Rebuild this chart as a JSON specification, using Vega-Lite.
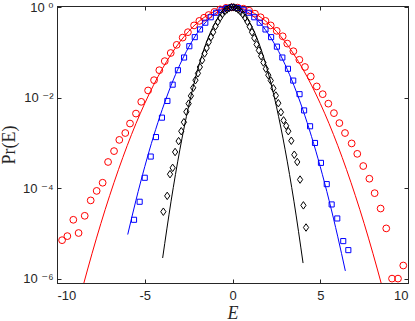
{
  "$schema": "https://vega.github.io/schema/vega-lite/v6.json",
  "width": 351,
  "height": 277,
  "autosize": "none",
  "padding": {"left": 57, "top": 6, "right": 7, "bottom": 38},
  "background": "white",
  "config": {
    "view": {"stroke": "#262626", "strokeWidth": 1},
    "axis": {
      "grid": false,
      "domainColor": "#262626",
      "tickColor": "#262626",
      "labelColor": "#262626",
      "labelFont": "Liberation Sans, DejaVu Sans",
      "labelFontSize": 13,
      "titleFont": "Liberation Serif",
      "titleFontWeight": "normal",
      "titleColor": "#262626",
      "tickSize": -4
    }
  },
  "datasets": {
    "pts": [
      {"series": "red", "E": -9.71, "P": 7.08e-6},
      {"series": "red", "E": -9.41, "P": 8.71e-6},
      {"series": "red", "E": -9.07, "P": 2.0e-5},
      {"series": "red", "E": -8.77, "P": 1.02e-5},
      {"series": "red", "E": -8.42, "P": 2.45e-5},
      {"series": "red", "E": -8.08, "P": 5.37e-5},
      {"series": "red", "E": -7.74, "P": 8.71e-5},
      {"series": "red", "E": -7.40, "P": 1.32e-4},
      {"series": "red", "E": -7.09, "P": 3.80e-4},
      {"series": "red", "E": -6.75, "P": 6.61e-4},
      {"series": "red", "E": -6.45, "P": 1.17e-3},
      {"series": "red", "E": -6.11, "P": 1.66e-3},
      {"series": "red", "E": -5.84, "P": 2.69e-3},
      {"series": "red", "E": -5.50, "P": 4.47e-3},
      {"series": "red", "E": -5.20, "P": 8.13e-3},
      {"series": "red", "E": -4.81, "P": 0.0145},
      {"series": "red", "E": -4.47, "P": 0.0245},
      {"series": "red", "E": -4.17, "P": 0.0407},
      {"series": "red", "E": -3.86, "P": 0.0646},
      {"series": "red", "E": -3.52, "P": 0.0977},
      {"series": "red", "E": -3.18, "P": 0.148},
      {"series": "red", "E": -2.84, "P": 0.214},
      {"series": "red", "E": -2.54, "P": 0.282},
      {"series": "red", "E": -2.19, "P": 0.398},
      {"series": "red", "E": -1.89, "P": 0.501},
      {"series": "red", "E": -1.62, "P": 0.589},
      {"series": "red", "E": -1.36, "P": 0.676},
      {"series": "red", "E": -1.03, "P": 0.794},
      {"series": "red", "E": -0.70, "P": 0.902},
      {"series": "red", "E": -0.37, "P": 0.973},
      {"series": "red", "E": -0.04, "P": 1.0},
      {"series": "red", "E": 0.29, "P": 0.984},
      {"series": "red", "E": 0.62, "P": 0.933},
      {"series": "red", "E": 0.95, "P": 0.841},
      {"series": "red", "E": 1.28, "P": 0.724},
      {"series": "red", "E": 1.60, "P": 0.603},
      {"series": "red", "E": 1.88, "P": 0.501},
      {"series": "red", "E": 2.18, "P": 0.398},
      {"series": "red", "E": 2.52, "P": 0.302},
      {"series": "red", "E": 2.86, "P": 0.229},
      {"series": "red", "E": 3.12, "P": 0.158},
      {"series": "red", "E": 3.47, "P": 0.107},
      {"series": "red", "E": 3.81, "P": 0.0692},
      {"series": "red", "E": 4.13, "P": 0.0479},
      {"series": "red", "E": 4.46, "P": 0.0295},
      {"series": "red", "E": 4.80, "P": 0.0178},
      {"series": "red", "E": 5.14, "P": 0.0120},
      {"series": "red", "E": 5.46, "P": 7.41e-3},
      {"series": "red", "E": 5.78, "P": 4.57e-3},
      {"series": "red", "E": 6.09, "P": 2.75e-3},
      {"series": "red", "E": 6.41, "P": 1.66e-3},
      {"series": "red", "E": 6.79, "P": 9.77e-4},
      {"series": "red", "E": 7.11, "P": 5.75e-4},
      {"series": "red", "E": 7.45, "P": 3.09e-4},
      {"series": "red", "E": 7.80, "P": 1.62e-4},
      {"series": "red", "E": 8.10, "P": 7.76e-5},
      {"series": "red", "E": 8.44, "P": 3.55e-5},
      {"series": "red", "E": 8.76, "P": 1.29e-5},
      {"series": "red", "E": 9.09, "P": 1.0e-6},
      {"series": "red", "E": 9.43, "P": 1.0e-6},
      {"series": "red", "E": 9.73, "P": 1.95e-6},
      {"series": "blue", "E": -5.61, "P": 2.0e-5},
      {"series": "blue", "E": -5.29, "P": 5.01e-5},
      {"series": "blue", "E": -5.00, "P": 1.70e-4},
      {"series": "blue", "E": -4.66, "P": 5.01e-4},
      {"series": "blue", "E": -4.36, "P": 1.35e-3},
      {"series": "blue", "E": -4.02, "P": 3.63e-3},
      {"series": "blue", "E": -3.71, "P": 8.51e-3},
      {"series": "blue", "E": -3.41, "P": 0.0195},
      {"series": "blue", "E": -3.11, "P": 0.0407},
      {"series": "blue", "E": -2.76, "P": 0.0776},
      {"series": "blue", "E": -2.46, "P": 0.138},
      {"series": "blue", "E": -2.15, "P": 0.219},
      {"series": "blue", "E": -1.85, "P": 0.324},
      {"series": "blue", "E": -1.55, "P": 0.457},
      {"series": "blue", "E": -1.24, "P": 0.603},
      {"series": "blue", "E": -0.93, "P": 0.759},
      {"series": "blue", "E": -0.62, "P": 0.881},
      {"series": "blue", "E": -0.31, "P": 0.968},
      {"series": "blue", "E": 0.0, "P": 1.0},
      {"series": "blue", "E": 0.31, "P": 0.968},
      {"series": "blue", "E": 0.62, "P": 0.881},
      {"series": "blue", "E": 0.93, "P": 0.759},
      {"series": "blue", "E": 1.24, "P": 0.603},
      {"series": "blue", "E": 1.55, "P": 0.457},
      {"series": "blue", "E": 1.88, "P": 0.324},
      {"series": "blue", "E": 2.20, "P": 0.219},
      {"series": "blue", "E": 2.53, "P": 0.135},
      {"series": "blue", "E": 2.84, "P": 0.0776},
      {"series": "blue", "E": 3.16, "P": 0.0437},
      {"series": "blue", "E": 3.46, "P": 0.0240},
      {"series": "blue", "E": 3.82, "P": 0.0120},
      {"series": "blue", "E": 4.08, "P": 5.25e-3},
      {"series": "blue", "E": 4.42, "P": 2.34e-3},
      {"series": "blue", "E": 4.70, "P": 1.0e-3},
      {"series": "blue", "E": 5.04, "P": 3.63e-4},
      {"series": "blue", "E": 5.37, "P": 1.23e-4},
      {"series": "blue", "E": 5.65, "P": 4.37e-5},
      {"series": "blue", "E": 5.97, "P": 2.14e-5},
      {"series": "blue", "E": 6.31, "P": 6.76e-6},
      {"series": "blue", "E": 6.60, "P": 4.27e-6},
      {"series": "black", "E": -3.94, "P": 3.02e-5},
      {"series": "black", "E": -3.72, "P": 6.76e-5},
      {"series": "black", "E": -3.56, "P": 2.04e-4},
      {"series": "black", "E": -3.41, "P": 2.82e-4},
      {"series": "black", "E": -3.27, "P": 6.31e-4},
      {"series": "black", "E": -3.07, "P": 1.10e-3},
      {"series": "black", "E": -2.92, "P": 1.82e-3},
      {"series": "black", "E": -2.77, "P": 2.88e-3},
      {"series": "black", "E": -2.63, "P": 4.90e-3},
      {"series": "black", "E": -2.50, "P": 7.41e-3},
      {"series": "black", "E": -2.37, "P": 0.0110},
      {"series": "black", "E": -2.24, "P": 0.0166},
      {"series": "black", "E": -2.11, "P": 0.0245},
      {"series": "black", "E": -1.97, "P": 0.0347},
      {"series": "black", "E": -1.86, "P": 0.0479},
      {"series": "black", "E": -1.73, "P": 0.0676},
      {"series": "black", "E": -1.59, "P": 0.0955},
      {"series": "black", "E": -1.47, "P": 0.126},
      {"series": "black", "E": -1.35, "P": 0.170},
      {"series": "black", "E": -1.23, "P": 0.219},
      {"series": "black", "E": -1.10, "P": 0.282},
      {"series": "black", "E": -0.97, "P": 0.380},
      {"series": "black", "E": -0.84, "P": 0.479},
      {"series": "black", "E": -0.71, "P": 0.589},
      {"series": "black", "E": -0.58, "P": 0.708},
      {"series": "black", "E": -0.45, "P": 0.813},
      {"series": "black", "E": -0.32, "P": 0.891},
      {"series": "black", "E": -0.19, "P": 0.964},
      {"series": "black", "E": -0.06, "P": 1.0},
      {"series": "black", "E": 0.07, "P": 1.0},
      {"series": "black", "E": 0.20, "P": 0.959},
      {"series": "black", "E": 0.33, "P": 0.891},
      {"series": "black", "E": 0.46, "P": 0.803},
      {"series": "black", "E": 0.59, "P": 0.700},
      {"series": "black", "E": 0.72, "P": 0.589},
      {"series": "black", "E": 0.85, "P": 0.479},
      {"series": "black", "E": 0.98, "P": 0.372},
      {"series": "black", "E": 1.11, "P": 0.282},
      {"series": "black", "E": 1.24, "P": 0.209},
      {"series": "black", "E": 1.37, "P": 0.151},
      {"series": "black", "E": 1.50, "P": 0.112},
      {"series": "black", "E": 1.63, "P": 0.0832},
      {"series": "black", "E": 1.76, "P": 0.0603},
      {"series": "black", "E": 1.90, "P": 0.0437},
      {"series": "black", "E": 2.04, "P": 0.0316},
      {"series": "black", "E": 2.18, "P": 0.0240},
      {"series": "black", "E": 2.33, "P": 0.0162},
      {"series": "black", "E": 2.47, "P": 0.0112},
      {"series": "black", "E": 2.61, "P": 7.59e-3},
      {"series": "black", "E": 2.76, "P": 4.79e-3},
      {"series": "black", "E": 2.91, "P": 3.16e-3},
      {"series": "black", "E": 3.06, "P": 2.40e-3},
      {"series": "black", "E": 3.18, "P": 1.82e-3},
      {"series": "black", "E": 3.35, "P": 1.12e-3},
      {"series": "black", "E": 3.52, "P": 5.50e-4},
      {"series": "black", "E": 3.69, "P": 3.80e-4},
      {"series": "black", "E": 3.85, "P": 1.55e-4},
      {"series": "black", "E": 4.04, "P": 4.17e-5},
      {"series": "black", "E": 4.19, "P": 1.35e-5}
    ],
    "lines": [
      {"series": "red", "E": -8.5, "P": 7.23e-7},
      {"series": "red", "E": -8.0, "P": 3.63e-6},
      {"series": "red", "E": -7.5, "P": 1.66e-5},
      {"series": "red", "E": -7.0, "P": 6.84e-5},
      {"series": "red", "E": -6.5, "P": 2.56e-4},
      {"series": "red", "E": -6.0, "P": 8.71e-4},
      {"series": "red", "E": -5.5, "P": 2.69e-3},
      {"series": "red", "E": -5.0, "P": 7.50e-3},
      {"series": "red", "E": -4.5, "P": 0.0190},
      {"series": "red", "E": -4.0, "P": 0.0437},
      {"series": "red", "E": -3.5, "P": 0.0910},
      {"series": "red", "E": -3.0, "P": 0.172},
      {"series": "red", "E": -2.5, "P": 0.294},
      {"series": "red", "E": -2.0, "P": 0.457},
      {"series": "red", "E": -1.5, "P": 0.644},
      {"series": "red", "E": -1.0, "P": 0.822},
      {"series": "red", "E": -0.5, "P": 0.952},
      {"series": "red", "E": 0.0, "P": 1.0},
      {"series": "red", "E": 0.5, "P": 0.952},
      {"series": "red", "E": 1.0, "P": 0.822},
      {"series": "red", "E": 1.5, "P": 0.644},
      {"series": "red", "E": 2.0, "P": 0.457},
      {"series": "red", "E": 2.5, "P": 0.294},
      {"series": "red", "E": 3.0, "P": 0.172},
      {"series": "red", "E": 3.5, "P": 0.0910},
      {"series": "red", "E": 4.0, "P": 0.0437},
      {"series": "red", "E": 4.5, "P": 0.0190},
      {"series": "red", "E": 5.0, "P": 7.50e-3},
      {"series": "red", "E": 5.5, "P": 2.69e-3},
      {"series": "red", "E": 6.0, "P": 8.71e-4},
      {"series": "red", "E": 6.5, "P": 2.56e-4},
      {"series": "red", "E": 7.0, "P": 6.84e-5},
      {"series": "red", "E": 7.5, "P": 1.66e-5},
      {"series": "red", "E": 8.0, "P": 3.63e-6},
      {"series": "red", "E": 8.5, "P": 7.23e-7},
      {"series": "blue", "E": -5.97, "P": 9.44e-6},
      {"series": "blue", "E": -5.5, "P": 5.43e-5},
      {"series": "blue", "E": -5.0, "P": 2.99e-4},
      {"series": "blue", "E": -4.5, "P": 1.40e-3},
      {"series": "blue", "E": -4.0, "P": 5.55e-3},
      {"series": "blue", "E": -3.5, "P": 0.01875},
      {"series": "blue", "E": -3.0, "P": 0.0538},
      {"series": "blue", "E": -2.5, "P": 0.131},
      {"series": "blue", "E": -2.0, "P": 0.273},
      {"series": "blue", "E": -1.5, "P": 0.482},
      {"series": "blue", "E": -1.0, "P": 0.723},
      {"series": "blue", "E": -0.5, "P": 0.922},
      {"series": "blue", "E": 0.0, "P": 1.0},
      {"series": "blue", "E": 0.5, "P": 0.922},
      {"series": "blue", "E": 1.0, "P": 0.723},
      {"series": "blue", "E": 1.5, "P": 0.482},
      {"series": "blue", "E": 2.0, "P": 0.273},
      {"series": "blue", "E": 2.5, "P": 0.131},
      {"series": "blue", "E": 3.0, "P": 0.0538},
      {"series": "blue", "E": 3.5, "P": 0.01875},
      {"series": "blue", "E": 4.0, "P": 5.55e-3},
      {"series": "blue", "E": 4.5, "P": 1.40e-3},
      {"series": "blue", "E": 5.0, "P": 2.99e-4},
      {"series": "blue", "E": 5.5, "P": 5.43e-5},
      {"series": "blue", "E": 6.0, "P": 8.39e-6},
      {"series": "blue", "E": 6.43, "P": 1.48e-6},
      {"series": "black", "E": -3.98, "P": 2.86e-6},
      {"series": "black", "E": -3.5, "P": 5.16e-5},
      {"series": "black", "E": -3.0, "P": 7.08e-4},
      {"series": "black", "E": -2.5, "P": 6.49e-3},
      {"series": "black", "E": -2.0, "P": 0.0398},
      {"series": "black", "E": -1.5, "P": 0.163},
      {"series": "black", "E": -1.0, "P": 0.447},
      {"series": "black", "E": -0.5, "P": 0.818},
      {"series": "black", "E": 0.0, "P": 1.0},
      {"series": "black", "E": 0.5, "P": 0.818},
      {"series": "black", "E": 1.0, "P": 0.447},
      {"series": "black", "E": 1.5, "P": 0.163},
      {"series": "black", "E": 2.0, "P": 0.0398},
      {"series": "black", "E": 2.5, "P": 6.49e-3},
      {"series": "black", "E": 3.0, "P": 7.08e-4},
      {"series": "black", "E": 3.5, "P": 5.16e-5},
      {"series": "black", "E": 4.02, "P": 2.21e-6}
    ]
  },
  "layer": [
    {
      "data": {"name": "lines"},
      "mark": {"type": "line", "clip": true, "strokeWidth": 1, "interpolate": "monotone"},
      "encoding": {
        "x": {
          "field": "E", "type": "quantitative",
          "scale": {"domain": [-10, 10], "nice": false, "zero": false},
          "axis": {
            "orient": "bottom", "values": [-10, -5, 0, 5, 10],
            "labelExpr": "'' + datum.value", "labelPadding": 10,
            "title": "E", "titleFontStyle": "italic", "titleFontSize": 18, "titlePadding": 2
          }
        },
        "y": {
          "field": "P", "type": "quantitative",
          "scale": {"type": "log", "domain": [8.0e-7, 1.07], "nice": false},
          "axis": {
            "orient": "left", "values": [1, 0.01, 0.0001, 0.000001],
            "labelExpr": "datum.value > 0.5 ? '10 ⁰' : datum.value > 0.005 ? '10 ⁻²' : datum.value > 0.00005 ? '10 ⁻⁴' : '10 ⁻⁶'",
            "labelPadding": 8,
            "title": "Pr(E)", "titleFontSize": 18, "titlePadding": 4
          }
        },
        "color": {
          "field": "series", "type": "nominal",
          "scale": {"domain": ["red", "blue", "black"], "range": ["#ff0000", "#0000ff", "#000000"]},
          "legend": null
        }
      }
    },
    {
      "data": {"name": "pts"},
      "mark": {"type": "point", "filled": false, "strokeWidth": 1, "opacity": 1},
      "encoding": {
        "x": {
          "field": "E", "type": "quantitative",
          "scale": {"domain": [-10, 10], "nice": false, "zero": false},
          "axis": {"orient": "top", "values": [-10, -5, 0, 5, 10], "labels": false, "title": null}
        },
        "y": {
          "field": "P", "type": "quantitative",
          "scale": {"type": "log", "domain": [8.0e-7, 1.07], "nice": false},
          "axis": {"orient": "right", "values": [1, 0.01, 0.0001, 0.000001], "labels": false, "title": null}
        },
        "color": {
          "field": "series", "type": "nominal",
          "scale": {"domain": ["red", "blue", "black"], "range": ["#ff0000", "#0000ff", "#000000"]},
          "legend": null
        },
        "shape": {
          "field": "series", "type": "nominal",
          "scale": {"domain": ["red", "blue", "black"], "range": ["circle", "square", "M-0.7,0L0,-1L0.7,0L0,1Z"]},
          "legend": null
        },
        "size": {
          "field": "series", "type": "nominal",
          "scale": {"type": "ordinal", "domain": ["red", "blue", "black"], "range": [46, 26, 56]},
          "legend": null
        }
      }
    }
  ],
  "resolve": {"axis": {"x": "independent", "y": "independent"}}
}
